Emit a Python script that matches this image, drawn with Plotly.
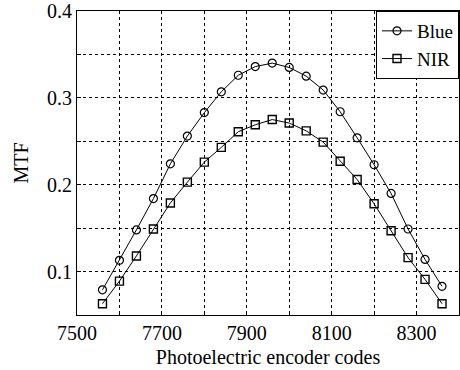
import plotly.graph_objects as go

codes = [7560 + 40 * i for i in range(21)]
blue = [0.079, 0.113, 0.148, 0.184, 0.224, 0.256, 0.283, 0.307, 0.326, 0.336, 0.340,
        0.335, 0.325, 0.309, 0.284, 0.254, 0.223, 0.190, 0.149, 0.114, 0.083]
nir = [0.063, 0.089, 0.118, 0.149, 0.179, 0.203, 0.226, 0.243, 0.261, 0.269, 0.275,
       0.271, 0.262, 0.249, 0.227, 0.206, 0.178, 0.147, 0.116, 0.091, 0.063]

x_ticks = list(range(7500, 8401, 100))
x_labels = [str(v) if (v - 7500) % 200 == 0 and v <= 8300 else "" for v in x_ticks]
y_ticks = [0.05, 0.10, 0.15, 0.20, 0.25, 0.30, 0.35, 0.40]
y_labels = ["", "0.1", "", "0.2", "", "0.3", "", "0.4"]

font = dict(family="Liberation Serif", size=20, color="black")
legend_font = dict(family="Liberation Serif", size=19, color="black")

fig = go.Figure()
fig.add_trace(go.Scatter(x=codes, y=blue, name="Blue", mode="lines+markers",
                         line=dict(color="black", width=1),
                         marker=dict(symbol="circle-open", size=8,
                                     line=dict(color="#333333", width=1.2))))
fig.add_trace(go.Scatter(x=codes, y=nir, name="NIR", mode="lines+markers",
                         line=dict(color="black", width=1),
                         marker=dict(symbol="square-open", size=8,
                                     line=dict(color="#555555", width=1.4))))

axis_common = dict(showline=True, linecolor="black", linewidth=1, mirror=True,
                   showgrid=True, gridcolor="black", griddash="dot", gridwidth=1,
                   ticks="inside", ticklen=4, tickcolor="black", zeroline=False,
                   tickfont=font)
fig.update_xaxes(range=[7500, 8400], tickvals=x_ticks, ticktext=x_labels,
                 title=dict(text="Photoelectric encoder codes", font=font, standoff=6),
                 **axis_common)
fig.update_yaxes(range=[0.05, 0.4], tickvals=y_ticks, ticktext=y_labels,
                 title=dict(text="MTF", font=font, standoff=13),
                 **axis_common)
fig.update_layout(width=460, height=370, margin=dict(l=77, r=1, t=11, b=55),
                  plot_bgcolor="white", paper_bgcolor="white", font=font,
                  legend=dict(x=1, y=1, xanchor="right", yanchor="top",
                              bgcolor="white", bordercolor="black", borderwidth=1,
                              font=legend_font, tracegroupgap=0, itemwidth=30))
fig.write_html("out.html")
